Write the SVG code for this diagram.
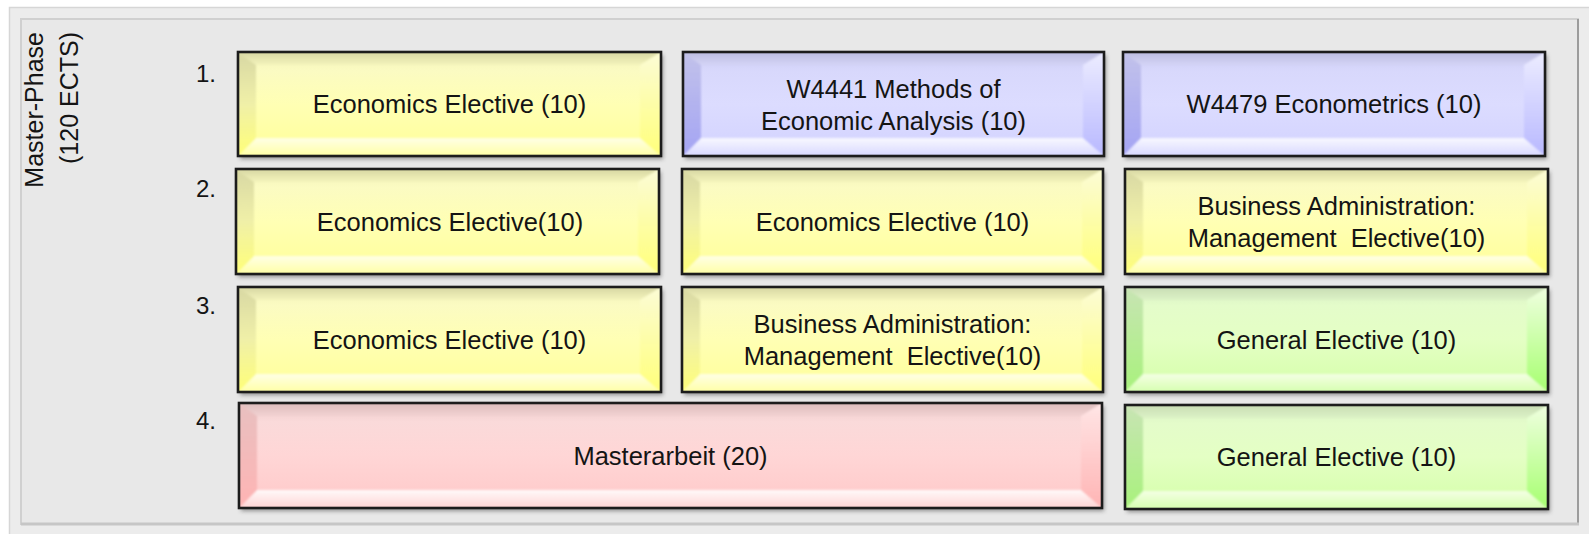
<svg xmlns="http://www.w3.org/2000/svg" width="1589" height="534" viewBox="0 0 1589 534">
<defs>
<style>
text{font-family:"Liberation Sans",Arial,sans-serif;fill:#141414}
.lbl{font-size:25.5px;text-anchor:middle}
.num{font-size:24px}
.side{font-size:25px;text-anchor:end}
.sh{fill:#444;opacity:.55;filter:url(#blur)}
.bd{fill:none;stroke:#1c1c1c;stroke-width:2.6}
.bev{filter:url(#soft);clip-path:url(#cb)}
.yellow .face{fill:url(#yF)} .yellow .top{fill:url(#yT)} .yellow .left{fill:url(#yL)} .yellow .right{fill:url(#yR)} .yellow .bot{fill:url(#yB)}
.blue .face{fill:url(#bF)} .blue .top{fill:url(#bT)} .blue .left{fill:url(#bL)} .blue .right{fill:url(#bR)} .blue .bot{fill:url(#bB)}
.green .face{fill:url(#gF)} .green .top{fill:url(#gT)} .green .left{fill:url(#gL)} .green .right{fill:url(#gR)} .green .bot{fill:url(#gB)}
.pink .face{fill:url(#pF)} .pink .top{fill:url(#pT)} .pink .left{fill:url(#pL)} .pink .right{fill:url(#pR)} .pink .bot{fill:url(#pB)}
</style>
<filter id="blur" x="-10%" y="-10%" width="120%" height="130%"><feGaussianBlur stdDeviation="2"/></filter>
<filter id="soft" x="-5%" y="-5%" width="110%" height="110%"><feGaussianBlur stdDeviation="1.3"/></filter>
<clipPath id="cb" clipPathUnits="objectBoundingBox"><rect width="1" height="1"/></clipPath>
<linearGradient id="yF" x1="0" y1="0" x2="0" y2="1"><stop offset="0" stop-color="#f2f2b8"/><stop offset=".18" stop-color="#fbfbc2"/><stop offset=".5" stop-color="#ffffb4"/><stop offset="1" stop-color="#ffff98"/></linearGradient>
<linearGradient id="yT" x1="0" y1="0" x2="0" y2="1"><stop offset="0" stop-color="#d6d6a2"/><stop offset="1" stop-color="#f4f4bc"/></linearGradient>
<linearGradient id="yL" x1="0" y1="0" x2="0" y2="1"><stop offset="0" stop-color="#d8d8a4"/><stop offset=".5" stop-color="#f0f0a8"/><stop offset="1" stop-color="#ffff78"/></linearGradient>
<linearGradient id="yR" x1="0" y1="0" x2="0" y2="1"><stop offset="0" stop-color="#fcfcd6"/><stop offset="1" stop-color="#ffff7a"/></linearGradient>
<linearGradient id="yB" x1="0" y1="0" x2="0" y2="1"><stop offset="0" stop-color="#ffffe6"/><stop offset="1" stop-color="#ffffa6"/></linearGradient>
<linearGradient id="bF" x1="0" y1="0" x2="0" y2="1"><stop offset="0" stop-color="#cacaf0"/><stop offset=".18" stop-color="#d8d8fc"/><stop offset=".5" stop-color="#dcdcff"/><stop offset="1" stop-color="#d2d2ff"/></linearGradient>
<linearGradient id="bT" x1="0" y1="0" x2="0" y2="1"><stop offset="0" stop-color="#bcbce0"/><stop offset="1" stop-color="#d4d4f6"/></linearGradient>
<linearGradient id="bL" x1="0" y1="0" x2="0" y2="1"><stop offset="0" stop-color="#c2c2ea"/><stop offset="1" stop-color="#a4a4f4"/></linearGradient>
<linearGradient id="bR" x1="0" y1="0" x2="0" y2="1"><stop offset="0" stop-color="#ececff"/><stop offset="1" stop-color="#b8b8ff"/></linearGradient>
<linearGradient id="bB" x1="0" y1="0" x2="0" y2="1"><stop offset="0" stop-color="#f8f8ff"/><stop offset="1" stop-color="#d8d8ff"/></linearGradient>
<linearGradient id="gF" x1="0" y1="0" x2="0" y2="1"><stop offset="0" stop-color="#d8f0c4"/><stop offset=".18" stop-color="#e4fcca"/><stop offset=".5" stop-color="#e4ffc4"/><stop offset="1" stop-color="#d4ffa8"/></linearGradient>
<linearGradient id="gT" x1="0" y1="0" x2="0" y2="1"><stop offset="0" stop-color="#c8dcb4"/><stop offset="1" stop-color="#dcf2c6"/></linearGradient>
<linearGradient id="gL" x1="0" y1="0" x2="0" y2="1"><stop offset="0" stop-color="#c8e4b4"/><stop offset="1" stop-color="#a8f27c"/></linearGradient>
<linearGradient id="gR" x1="0" y1="0" x2="0" y2="1"><stop offset="0" stop-color="#f0ffe0"/><stop offset="1" stop-color="#a6ff70"/></linearGradient>
<linearGradient id="gB" x1="0" y1="0" x2="0" y2="1"><stop offset="0" stop-color="#f4ffe4"/><stop offset="1" stop-color="#d6ffb0"/></linearGradient>
<linearGradient id="pF" x1="0" y1="0" x2="0" y2="1"><stop offset="0" stop-color="#ecc8c8"/><stop offset=".18" stop-color="#fadada"/><stop offset=".5" stop-color="#ffd6d6"/><stop offset="1" stop-color="#ffc8c8"/></linearGradient>
<linearGradient id="pT" x1="0" y1="0" x2="0" y2="1"><stop offset="0" stop-color="#dcbcbc"/><stop offset="1" stop-color="#f2d2d2"/></linearGradient>
<linearGradient id="pL" x1="0" y1="0" x2="0" y2="1"><stop offset="0" stop-color="#e8c0c0"/><stop offset="1" stop-color="#ffb4b4"/></linearGradient>
<linearGradient id="pR" x1="0" y1="0" x2="0" y2="1"><stop offset="0" stop-color="#ffe6e6"/><stop offset="1" stop-color="#ffb4b4"/></linearGradient>
<linearGradient id="pB" x1="0" y1="0" x2="0" y2="1"><stop offset="0" stop-color="#fffafa"/><stop offset="1" stop-color="#ffd4d4"/></linearGradient>
</defs>
<rect width="1589" height="534" fill="#ffffff"/>
<g id="panel">
<rect x="9.5" y="7.5" width="1590" height="540" fill="#ececec" stroke="#d6d6d6" stroke-width="1.5"/>
<rect x="21" y="19" width="1557" height="505" fill="#e8e8e8" stroke="#d0d0d0" stroke-width="2"/>
<line x1="1578" y1="19" x2="1578" y2="524" stroke="#9c9c9c" stroke-width="2"/>
<line x1="21" y1="524" x2="1579" y2="524" stroke="#c6c6c6" stroke-width="3"/>
</g>
<g id="phase-label">
<text class="side" transform="translate(43,32) rotate(-90)">Master-Phase</text>
<text class="side" transform="translate(78,32) rotate(-90)">(120 ECTS)</text>
</g>
<g id="semester-labels">
<text class="num" x="196" y="82">1.</text>
<text class="num" x="196" y="197">2.</text>
<text class="num" x="196" y="314">3.</text>
<text class="num" x="196" y="429">4.</text>
</g>
<g id="connectors"/>

<g id="s1-econ-elective" class="yellow">
<rect class="sh" x="240" y="55" width="423" height="104"/>
<rect class="face" x="238" y="52" width="423" height="104"/>
<g class="bev"><polygon class="top" points="238,52 661,52 640,65 256,65"/><polygon class="bot" points="238,156 661,156 640,138 256,138"/><polygon class="left" points="238,52 256,65 256,138 238,156"/><polygon class="right" points="661,52 640,65 640,138 661,156"/></g>
<rect class="bd" x="238" y="52" width="423" height="104"/>
<text class="lbl" x="449.5" y="113">Economics Elective (10)</text>
</g>

<g id="s1-w4441" class="blue">
<rect class="sh" x="685" y="55" width="421" height="104"/>
<rect class="face" x="683" y="52" width="421" height="104"/>
<g class="bev"><polygon class="top" points="683,52 1104,52 1083,65 701,65"/><polygon class="bot" points="683,156 1104,156 1083,138 701,138"/><polygon class="left" points="683,52 701,65 701,138 683,156"/><polygon class="right" points="1104,52 1083,65 1083,138 1104,156"/></g>
<rect class="bd" x="683" y="52" width="421" height="104"/>
<text class="lbl" x="893.5" y="98">W4441 Methods of</text>
<text class="lbl" x="893.5" y="130">Economic Analysis (10)</text>
</g>

<g id="s1-w4479" class="blue">
<rect class="sh" x="1125" y="55" width="422" height="104"/>
<rect class="face" x="1123" y="52" width="422" height="104"/>
<g class="bev"><polygon class="top" points="1123,52 1545,52 1524,65 1141,65"/><polygon class="bot" points="1123,156 1545,156 1524,138 1141,138"/><polygon class="left" points="1123,52 1141,65 1141,138 1123,156"/><polygon class="right" points="1545,52 1524,65 1524,138 1545,156"/></g>
<rect class="bd" x="1123" y="52" width="422" height="104"/>
<text class="lbl" x="1334" y="113">W4479 Econometrics (10)</text>
</g>

<g id="s2-econ-elective-a" class="yellow">
<rect class="sh" x="238" y="172" width="423" height="105"/>
<rect class="face" x="236" y="169" width="423" height="105"/>
<g class="bev"><polygon class="top" points="236,169 659,169 638,182 254,182"/><polygon class="bot" points="236,274 659,274 638,256 254,256"/><polygon class="left" points="236,169 254,182 254,256 236,274"/><polygon class="right" points="659,169 638,182 638,256 659,274"/></g>
<rect class="bd" x="236" y="169" width="423" height="105"/>
<text class="lbl" x="450" y="230.5">Economics Elective(10)</text>
</g>

<g id="s2-econ-elective-b" class="yellow">
<rect class="sh" x="684" y="172" width="421" height="105"/>
<rect class="face" x="682" y="169" width="421" height="105"/>
<g class="bev"><polygon class="top" points="682,169 1103,169 1082,182 700,182"/><polygon class="bot" points="682,274 1103,274 1082,256 700,256"/><polygon class="left" points="682,169 700,182 700,256 682,274"/><polygon class="right" points="1103,169 1082,182 1082,256 1103,274"/></g>
<rect class="bd" x="682" y="169" width="421" height="105"/>
<text class="lbl" x="892.5" y="230.5">Economics Elective (10)</text>
</g>

<g id="s2-bwl-elective" class="yellow">
<rect class="sh" x="1127" y="172" width="423" height="105"/>
<rect class="face" x="1125" y="169" width="423" height="105"/>
<g class="bev"><polygon class="top" points="1125,169 1548,169 1527,182 1143,182"/><polygon class="bot" points="1125,274 1548,274 1527,256 1143,256"/><polygon class="left" points="1125,169 1143,182 1143,256 1125,274"/><polygon class="right" points="1548,169 1527,182 1527,256 1548,274"/></g>
<rect class="bd" x="1125" y="169" width="423" height="105"/>
<text class="lbl" x="1336.5" y="214.5">Business Administration:</text>
<text class="lbl" x="1336.5" y="246.5" xml:space="preserve">Management  Elective(10)</text>
</g>

<g id="s3-econ-elective" class="yellow">
<rect class="sh" x="240" y="290" width="423" height="105"/>
<rect class="face" x="238" y="287" width="423" height="105"/>
<g class="bev"><polygon class="top" points="238,287 661,287 640,300 256,300"/><polygon class="bot" points="238,392 661,392 640,374 256,374"/><polygon class="left" points="238,287 256,300 256,374 238,392"/><polygon class="right" points="661,287 640,300 640,374 661,392"/></g>
<rect class="bd" x="238" y="287" width="423" height="105"/>
<text class="lbl" x="449.5" y="348.5">Economics Elective (10)</text>
</g>

<g id="s3-bwl-elective" class="yellow">
<rect class="sh" x="684" y="290" width="421" height="105"/>
<rect class="face" x="682" y="287" width="421" height="105"/>
<g class="bev"><polygon class="top" points="682,287 1103,287 1082,300 700,300"/><polygon class="bot" points="682,392 1103,392 1082,374 700,374"/><polygon class="left" points="682,287 700,300 700,374 682,392"/><polygon class="right" points="1103,287 1082,300 1082,374 1103,392"/></g>
<rect class="bd" x="682" y="287" width="421" height="105"/>
<text class="lbl" x="892.5" y="332.5">Business Administration:</text>
<text class="lbl" x="892.5" y="364.5" xml:space="preserve">Management  Elective(10)</text>
</g>

<g id="s3-general-elective" class="green">
<rect class="sh" x="1127" y="290" width="423" height="105"/>
<rect class="face" x="1125" y="287" width="423" height="105"/>
<g class="bev"><polygon class="top" points="1125,287 1548,287 1527,300 1143,300"/><polygon class="bot" points="1125,392 1548,392 1527,374 1143,374"/><polygon class="left" points="1125,287 1143,300 1143,374 1125,392"/><polygon class="right" points="1548,287 1527,300 1527,374 1548,392"/></g>
<rect class="bd" x="1125" y="287" width="423" height="105"/>
<text class="lbl" x="1336.5" y="348.5">General Elective (10)</text>
</g>

<g id="s4-masterarbeit" class="pink">
<rect class="sh" x="241" y="406" width="863" height="105"/>
<rect class="face" x="239" y="403" width="863" height="105"/>
<g class="bev"><polygon class="top" points="239,403 1102,403 1081,416 257,416"/><polygon class="bot" points="239,508 1102,508 1081,490 257,490"/><polygon class="left" points="239,403 257,416 257,490 239,508"/><polygon class="right" points="1102,403 1081,416 1081,490 1102,508"/></g>
<rect class="bd" x="239" y="403" width="863" height="105"/>
<text class="lbl" x="670.5" y="464.5">Masterarbeit (20)</text>
</g>

<g id="s4-general-elective" class="green">
<rect class="sh" x="1127" y="408" width="423" height="104"/>
<rect class="face" x="1125" y="405" width="423" height="104"/>
<g class="bev"><polygon class="top" points="1125,405 1548,405 1527,418 1143,418"/><polygon class="bot" points="1125,509 1548,509 1527,491 1143,491"/><polygon class="left" points="1125,405 1143,418 1143,491 1125,509"/><polygon class="right" points="1548,405 1527,418 1527,491 1548,509"/></g>
<rect class="bd" x="1125" y="405" width="423" height="104"/>
<text class="lbl" x="1336.5" y="466">General Elective (10)</text>
</g>
</svg>
